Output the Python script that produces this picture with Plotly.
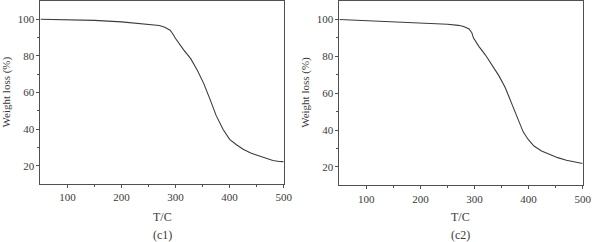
import plotly.graph_objects as go

# Data
temp_c1 = [50, 100, 150, 200, 250, 270, 280, 290, 295, 300, 315, 328, 340, 352, 364, 375, 388, 400, 412, 425, 440, 461, 480, 492, 500]
wt_c1 = [100, 99.7, 99.4, 98.6, 97.4, 96.6, 95.6, 94.0, 92.0, 89.5, 83.3, 78.5, 72.3, 65.0, 56.1, 47.5, 39.8, 34.4, 31.6, 29.0, 26.8, 24.5, 22.8, 22.3, 22.2]

temp_c2 = [50, 100, 150, 200, 250, 270, 280, 290, 295, 298, 308, 320, 332, 345, 357, 370, 381, 390, 399, 410, 424, 440, 454, 470, 484, 500]
wt_c2 = [100, 99.4, 98.8, 98.1, 97.4, 96.8, 96.2, 94.8, 92.8, 90.0, 85.4, 80.8, 75.5, 69.5, 62.9, 53.5, 44.5, 39.0, 35.0, 31.3, 28.6, 26.7, 25.0, 23.6, 22.6, 21.8]

x_ticks = [100, 200, 300, 400, 500]
y_ticks = [20, 40, 60, 80, 100]
panel_labels = ["(c1)", "(c2)"]
x_title = "T/C"
y_title = "Weight loss (%)"

W, H = 600, 242
FONT = "Liberation Serif"
TXT = "#3a3a3a"
LINE = "#505050"

fig = go.Figure()
fig.add_trace(go.Scatter(x=temp_c1, y=wt_c1, mode="lines", line=dict(color="#3c3c3c", width=1.1),
                         xaxis="x", yaxis="y", showlegend=False))
fig.add_trace(go.Scatter(x=temp_c2, y=wt_c2, mode="lines", line=dict(color="#3c3c3c", width=1.1),
                         xaxis="x2", yaxis="y2", showlegend=False))

def xax(dom, anchor):
    return dict(domain=dom, anchor=anchor, range=[50, 500], tickvals=x_ticks,
                showgrid=False, zeroline=False, showline=True, linecolor=LINE, linewidth=1,
                mirror=True, ticks="outside", ticklen=3, tickwidth=1, tickcolor=LINE,
                minor=dict(tickvals=[150, 250, 350, 450], ticks="outside", ticklen=2, tickcolor=LINE),
                tickfont=dict(family=FONT, size=11, color=TXT))

def yax(dom, anchor):
    return dict(domain=dom, anchor=anchor, range=[10, 110], tickvals=y_ticks,
                showgrid=False, zeroline=False, showline=True, linecolor=LINE, linewidth=1,
                mirror=True, ticks="outside", ticklen=3, tickwidth=1, tickcolor=LINE,
                minor=dict(tickvals=[30, 50, 70, 90], ticks="outside", ticklen=2, tickcolor=LINE),
                tickfont=dict(family=FONT, size=11, color=TXT))

fig.update_layout(
    width=W, height=H, margin=dict(l=0, r=0, t=0, b=0),
    paper_bgcolor="white", plot_bgcolor="white",
    xaxis=xax([41 / W, 288 / W], "y"),
    yaxis=yax([58 / H, 241 / H], "x"),
    xaxis2=xax([344.5 / W, 591.5 / W], "y2"),
    yaxis2=yax([56.7 / H, 241 / H], "x2"),
)

ann = []
for cx, lab in [(164.5, panel_labels[0]), (468, panel_labels[1])]:
    ann.append(dict(x=cx / W, y=1 - 217 / H, xref="paper", yref="paper", text=x_title, showarrow=False,
                    font=dict(family=FONT, size=12, color=TXT), xanchor="center", yanchor="middle"))
    ann.append(dict(x=cx / W, y=1 - 234.5 / H, xref="paper", yref="paper", text=lab, showarrow=False,
                    font=dict(family=FONT, size=12, color=TXT), xanchor="center", yanchor="middle"))
for cx in [6.5, 309.5]:
    ann.append(dict(x=cx / W, y=1 - 92 / H, xref="paper", yref="paper", text=y_title, showarrow=False,
                    textangle=-90, font=dict(family=FONT, size=11, color=TXT),
                    xanchor="center", yanchor="middle"))
fig.update_layout(annotations=ann)

fig.write_html("out.html")
